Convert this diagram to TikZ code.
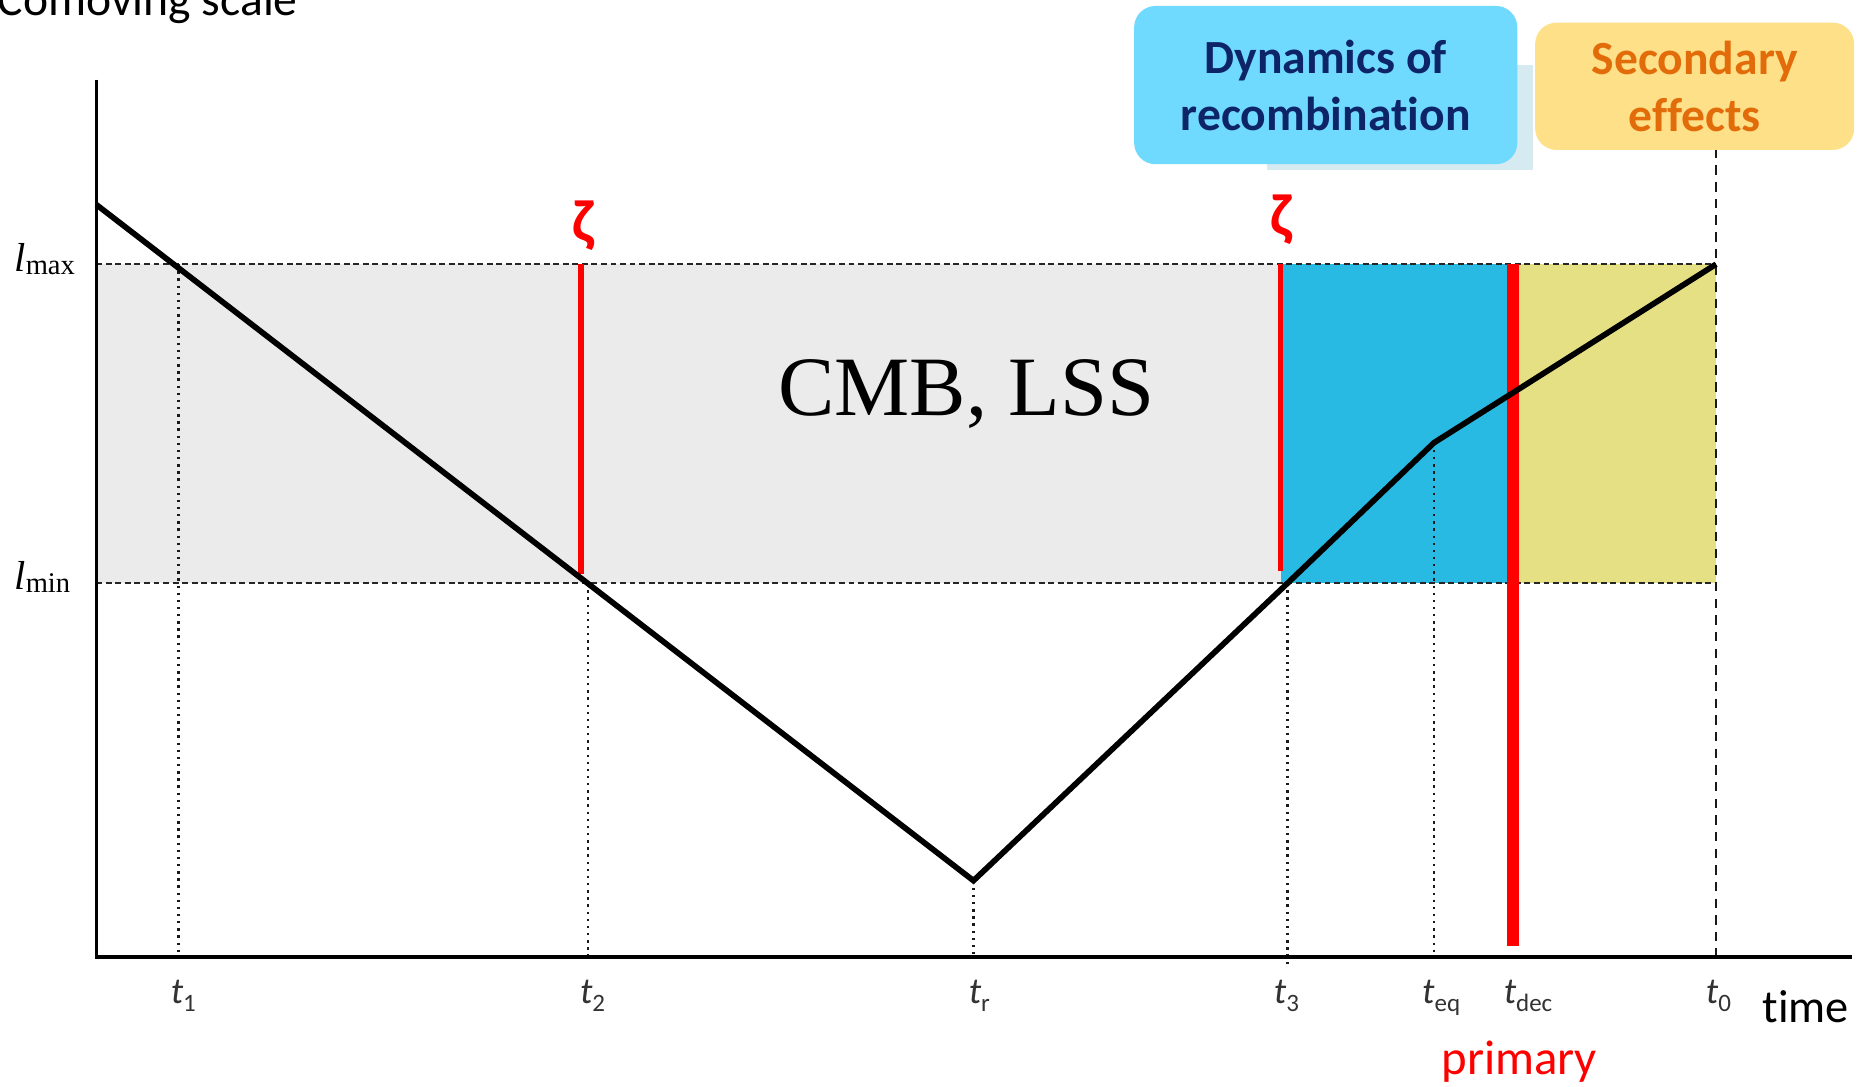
\documentclass[tikz,border=0pt]{standalone}
\usepackage{fontspec}
\setmainfont{Carlito}[Ligatures=NoCommon]
\newfontfamily\timesf{Liberation Serif}
\definecolor{bandgray}{HTML}{EBEBEB}
\definecolor{bandblue}{HTML}{28BAE3}
\definecolor{bandyellow}{HTML}{E6E085}
\definecolor{boxblue}{HTML}{70D9FE}
\definecolor{navytext}{HTML}{0D2466}
\definecolor{boxyellow}{HTML}{FEE088}
\definecolor{orangetext}{HTML}{E36C0A}
\definecolor{shadowc}{HTML}{D6EAF1}
\definecolor{redline}{HTML}{FF0000}
\definecolor{labgray}{HTML}{333333}
\newcommand{\tlab}[1]{{\fontsize{31}{31}\selectfont\itshape t}\raisebox{-7pt}{\fontsize{21}{21}\selectfont #1}}
\newcommand{\llab}[1]{{\timesf\fontsize{34}{34}\selectfont\itshape l}\raisebox{-3pt}{\timesf\fontsize{24}{24}\selectfont #1}}
\begin{document}
\begin{tikzpicture}[x=1pt,y=-1pt,
  guide/.style={draw=black!85, line width=1.8pt, dash pattern=on 5pt off 3pt},
  dotline/.style={draw=black!90, line width=2pt, dash pattern=on 2pt off 4pt},
  curve/.style={draw=black, line width=4.8pt, line join=miter},
  zetalab/.style={text=redline, font=\fontsize{50}{50}\selectfont\bfseries, inner sep=0pt},
  tlabel/.style={text=labgray, anchor=base, inner sep=0pt},
  infobox/.style={rounded corners=18pt, align=center, inner sep=0pt, font=\fontsize{40}{48}\selectfont\bfseries}]
\useasboundingbox (0,0) rectangle (1568,913);
\fill[white] (0,0) rectangle (1568,913);
% coordinates
\coordinate (ystart) at (81,172);
\coordinate (tr) at (818,740);
\coordinate (t3p) at (1082,490);
\coordinate (teqp) at (1205,372);
\coordinate (t0p) at (1442,222);
\coordinate (t1p) at (150,222);
\coordinate (t2p) at (494,490);
% bands
\fill[bandgray] (81,222) rectangle (1442,490);
\fill[bandblue] (1076,222) rectangle (1268,490);
\fill[bandyellow] (1271,222) rectangle (1442,490);
% guides
\draw[guide] (81,222) -- (1442,222);
\draw[guide] (81,490) -- (1442,490);
\draw[dotline] (t1p) -- (150,804);
\draw[dotline] (t2p) -- (494,804);
\draw[dotline] (tr) -- (818,804);
\draw[dotline] (t3p) -- (1082,812);
\draw[dotline] (teqp) -- (1205,804);
\draw[draw=black!90, line width=2pt, dash pattern=on 8pt off 6pt] (1442,125) -- (1442,804);
% axes
\draw[line width=2pt] (81,67) -- (81,805);
\draw[line width=3.4pt] (80,804) -- (1556,804);
% red markers
\draw[redline, line width=5pt] (488,222) -- (488,482);
\draw[redline, line width=5pt] (1076,222) -- (1076,480);
\draw[redline, line width=10pt] (1271,222) -- (1271,795);
% curve
\draw[curve] (ystart) -- (tr) -- (t3p) -- (teqp) -- (t0p);
% zeta labels
\node[zetalab] (z1) at (490,190) {ζ};
\node[zetalab] (z2) at (1077,185) {ζ};
% big text
\node[anchor=base, inner sep=0pt, font=\timesf\fontsize{71}{71}\selectfont] (cmb) at (812,349) {CMB, LSS};
% axis labels
\node[anchor=base west, inner sep=0pt] (lmax) at (12,228) {\llab{max}};
\node[anchor=base west, inner sep=0pt] (lmin) at (12,495) {\llab{min}};
\node[anchor=base west, inner sep=0pt, font=\fontsize{40}{40}\selectfont] (ylab) at (-2,13) {Comoving scale};
\node[anchor=base west, inner sep=0pt, font=\fontsize{39}{39}\selectfont] (xlab) at (1481,859) {time};
\node[tlabel] (lt1) at (154,843) {\tlab{1}};
\node[tlabel] (lt2) at (498,843) {\tlab{2}};
\node[tlabel] (ltr) at (823,843) {\tlab{r}};
\node[tlabel] (lt3) at (1081,843) {\tlab{3}};
\node[tlabel] (lteq) at (1211,843) {\tlab{eq}};
\node[tlabel] (ltdec) at (1284,843) {\tlab{dec}};
\node[tlabel] (lt0) at (1444,843) {\tlab{0}};
\node[anchor=base west, inner sep=0pt, text=redline, font=\fontsize{41}{41}\selectfont] (prim) at (1211,903) {primary};
% boxes
\fill[shadowc] (1065,55) rectangle (1288,143);
\node[infobox, fill=boxblue, text=navytext, minimum width=322pt, minimum height=133pt] (dyn) at (1114,71.5) {Dynamics of\\recombination};
\node[infobox, fill=boxyellow, text=orangetext, minimum width=268pt, minimum height=107pt] (sec) at (1424,72.5) {Secondary\\effects};
\end{tikzpicture}
\end{document}
